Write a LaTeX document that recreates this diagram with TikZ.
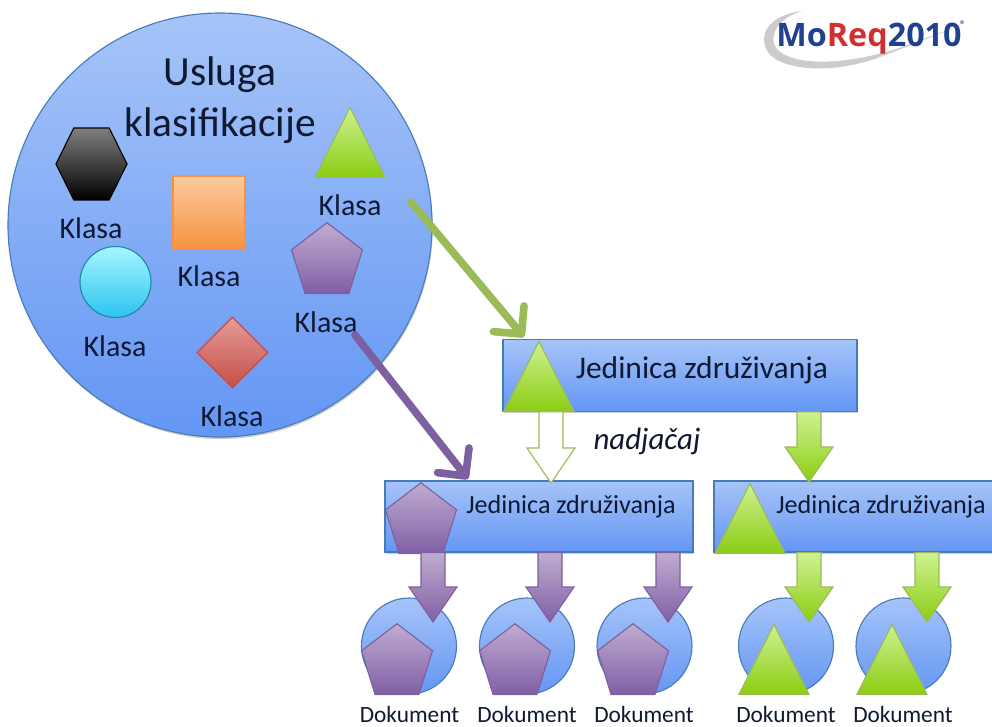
\documentclass[tikz,border=0pt]{standalone}
\usepackage{fontspec}
\setmainfont{Carlito}
\newfontfamily\logofont{Open Sans}
\definecolor{plavaT}{RGB}{166, 196, 248}
\definecolor{plavaB}{RGB}{100, 150, 244}
\definecolor{plavaR}{RGB}{70, 125, 185}
\definecolor{zelenaT}{RGB}{205, 242, 145}
\definecolor{zelenaB}{RGB}{140, 205, 20}
\definecolor{zelenaR}{RGB}{155, 187, 89}
\definecolor{ljubT}{RGB}{192, 172, 208}
\definecolor{ljubB}{RGB}{128, 95, 165}
\definecolor{ljubR}{RGB}{125, 96, 160}
\definecolor{narT}{RGB}{251, 203, 158}
\definecolor{narB}{RGB}{247, 146, 66}
\definecolor{crvT}{RGB}{230, 155, 152}
\definecolor{crvB}{RGB}{196, 78, 72}
\definecolor{cijT}{RGB}{165, 246, 255}
\definecolor{cijB}{RGB}{45, 195, 240}
\definecolor{tekst}{RGB}{15, 25, 50}
\definecolor{logoplava}{RGB}{32, 64, 146}
\definecolor{logocrvena}{RGB}{208, 48, 48}
\usepackage{tikz}
\usetikzlibrary{shapes.geometric, arrows.meta, calc, shadows}
\newcommand{\blockdown}[3]{%
  \draw[#1] ($(#3 |- #2.south)+(-12,0)$) -- ($(#3)+(-12,-35)$) -- ($(#3)+(-24,-35)$)
    -- (#3) -- ($(#3)+(24,-35)$) -- ($(#3)+(12,-35)$) -- ($(#3 |- #2.south)+(12,0)$) -- cycle;}

\begin{document}
\begin{tikzpicture}[x=0.25mm, y=-0.25mm,
  sjena/.style={drop shadow={shadow xshift=0.2mm, shadow yshift=-0.5mm, opacity=.2, fill=black}},
  jedinica/.style={draw=plavaR, thick, top color=plavaT, bottom color=plavaB, sjena, inner sep=0pt},
  dokkrug/.style={draw=plavaR, thick, ellipse, top color=plavaT, bottom color=plavaB, inner sep=0pt,
                  minimum width=23.75mm, minimum height=24mm},
  trokut/.style={regular polygon, regular polygon sides=3, draw=zelenaR, thick, top color=zelenaT,
                 bottom color=zelenaB, inner sep=0pt, minimum size=20.2mm, yscale=1.155,
                 transform shape, anchor=corner 1},
  pentagon/.style={regular polygon, regular polygon sides=5, draw=ljubR, thick, top color=ljubT,
                   bottom color=ljubB, inner sep=0pt, minimum size=18.65mm, yscale=1.05,
                   transform shape, anchor=corner 1},
  klasa/.style={font=\fontsize{21.3}{24}\selectfont, text=tekst},
  dok/.style={font=\fontsize{16.6}{19}\selectfont, text=tekst, inner sep=1pt},
  zelstrelica/.style={draw=zelenaR, thick, top color=zelenaT, bottom color=zelenaB},
  ljubstrelica/.style={draw=ljubR, thick, top color=ljubT, bottom color=ljubB},
  prazna/.style={draw=zelenaR, thick, fill=white},
  veza/.style={line width=1.9mm, line cap=round, -{Straight Barb[round, length=5mm, width=10mm]}},
]
\useasboundingbox (0,0) rectangle (992,726);

% Logo
\fill[black!20] (802,11) .. controls (775,14) and (758,30) .. (766,48)
  .. controls (773,70) and (830,76) .. (880,57) .. controls (910,46) and (940,33) .. (958,27)
  .. controls (930,35) and (905,48) .. (878,54) .. controls (835,65) and (790,65) .. (776,48)
  .. controls (768,36) and (778,18) .. (802,11) -- cycle;
\node[font=\logofont\bfseries\fontsize{23}{26}\selectfont, inner sep=0pt] (logo) at (869,39)
  {\textcolor{logoplava}{Mo}\textcolor{logocrvena}{Req}\textcolor{logoplava}{2010}};
\node[font=\fontsize{9}{10}\selectfont, text=logoplava, inner sep=0pt] (znak) at (963,25) {\textregistered};

% Usluga
\node[circle, draw=plavaR, thick, top color=plavaT, bottom color=plavaB, sjena, inner sep=0pt,
      minimum size=106mm] (usluga) at (220,225) {};
\node[font=\fontsize{29.5}{36}\selectfont, text=tekst, align=center] (naslov) at (220,100)
  {Usluga\\klasifikacije};

\node[regular polygon, regular polygon sides=6, draw=black, thick, top color=black!50, bottom color=black,
      inner sep=0pt, minimum size=17.75mm, yscale=1.17, transform shape] (sest) at (91.5,164) {};
\node[draw=narB, thick, top color=narT, bottom color=narB, minimum size=18mm, inner sep=0pt] (kvadrat) at (209,212) {};
\node[circle, draw=cijB!70!black, thick, top color=cijT, bottom color=cijB, minimum size=17.75mm, inner sep=0pt] (krug) at (115.5,282) {};
\node[diamond, draw=crvB, thick, top color=crvT, bottom color=crvB, minimum width=17.75mm,
      minimum height=17.75mm, inner sep=0pt] (romb) at (232.5,352.5) {};
\node[trokut] (trokutK) at (350,106) {};
\node[pentagon] (pentK) at (327,222) {};

\node[klasa] (klasaSest) at (91,228) {Klasa};
\node[klasa] (klasaKvad) at (209,276) {Klasa};
\node[klasa] (klasaTrok) at (350,205) {Klasa};
\node[klasa] (klasaPent) at (326,322) {Klasa};
\node[klasa] (klasaKrug) at (115,346) {Klasa};
\node[klasa] (klasaRomb) at (232,416) {Klasa};

% Jedinice
\node[jedinica, minimum width=88.5mm, minimum height=17.9mm] (jedVrh) at (680,375.5) {};
\node[jedinica, minimum width=77mm, minimum height=17.75mm] (jedLijevo) at (539,516.5) {};
\node[jedinica, minimum width=70mm, minimum height=17.75mm] (jedDesno) at (854,516.5) {};

\node[trokut] (trokutVrh) at (539,340) {};
\node[trokut] (trokutDesno) at (750,482) {};
\node[pentagon] (pentLijevo) at (421,482) {};

\node[font=\fontsize{22.4}{26}\selectfont, text=tekst] (tekstVrh) at (702,370) {Jedinica združivanja};
\node[font=\fontsize{18.6}{22}\selectfont, text=tekst] (tekstLijevo) at (571,507) {Jedinica združivanja};
\node[font=\fontsize{18.6}{22}\selectfont, text=tekst] (tekstDesno) at (881,507) {Jedinica združivanja};
\node[font=\itshape\fontsize{22}{26}\selectfont, text=tekst] (nadjacaj) at (647,441) {nadjačaj};

% Dokumenti
\foreach \ime/\x in {a/409, b/527, c/644.5, d/786, e/903.5}
  \node[dokkrug] (dok\ime) at (\x,646) {};
\foreach \ime/\x in {a/397, b/515, c/633}
  \node[pentagon] (pentDok\ime) at (\x,623) {};
\foreach \ime/\x in {d/774, e/892}
  \node[trokut] (trokutDok\ime) at (\x,623) {};
\foreach \ime/\x in {a/409.5, b/527, c/644, d/786, e/903}
  \node[dok] (natpis\ime) at (\x,714) {Dokument};

% Strelice
\coordinate (vrhPrazna) at (551,483);
\coordinate (vrhDesno) at (809,482);
\coordinate (vrhA) at (433,622);
\coordinate (vrhB) at (550,622);
\coordinate (vrhC) at (668,622);
\coordinate (vrhD) at (809,622);
\coordinate (vrhE) at (927,622);
\blockdown{prazna}{jedVrh}{vrhPrazna}
\blockdown{zelstrelica}{jedVrh}{vrhDesno}
\blockdown{ljubstrelica}{jedLijevo}{vrhA}
\blockdown{ljubstrelica}{jedLijevo}{vrhB}
\blockdown{ljubstrelica}{jedLijevo}{vrhC}
\blockdown{zelstrelica}{jedDesno}{vrhD}
\blockdown{zelstrelica}{jedDesno}{vrhE}

\coordinate (odZelena) at (411,202);
\coordinate (doZelena) at (524,337);
\coordinate (odLjub) at (355,335);
\coordinate (doLjub) at (468,479);
\draw[veza, draw=zelenaR] (odZelena) -- (doZelena);
\draw[veza, draw=ljubR] (odLjub) -- (doLjub);
\end{tikzpicture}
\end{document}
